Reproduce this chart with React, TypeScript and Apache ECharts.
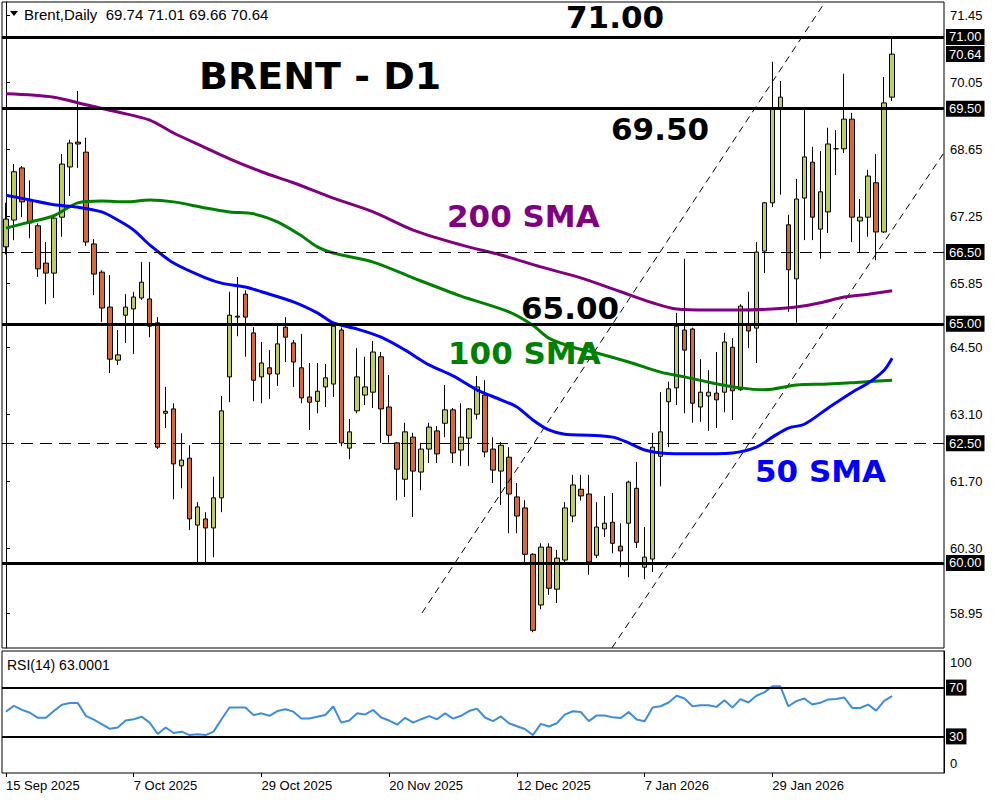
import React, { useEffect, useRef } from "react";
import * as echarts from "echarts";

const dates = [
  "15 Sep 2025","16 Sep 2025","17 Sep 2025","18 Sep 2025","19 Sep 2025",
  "22 Sep 2025","23 Sep 2025","24 Sep 2025","25 Sep 2025","26 Sep 2025",
  "29 Sep 2025","30 Sep 2025","1 Oct 2025","2 Oct 2025","3 Oct 2025",
  "6 Oct 2025","7 Oct 2025","8 Oct 2025","9 Oct 2025","10 Oct 2025",
  "13 Oct 2025","14 Oct 2025","15 Oct 2025","16 Oct 2025","17 Oct 2025",
  "20 Oct 2025","21 Oct 2025","22 Oct 2025","23 Oct 2025","24 Oct 2025",
  "27 Oct 2025","28 Oct 2025","29 Oct 2025","30 Oct 2025","31 Oct 2025",
  "3 Nov 2025","4 Nov 2025","5 Nov 2025","6 Nov 2025","7 Nov 2025",
  "10 Nov 2025","11 Nov 2025","12 Nov 2025","13 Nov 2025","14 Nov 2025",
  "17 Nov 2025","18 Nov 2025","19 Nov 2025","20 Nov 2025","21 Nov 2025",
  "24 Nov 2025","25 Nov 2025","26 Nov 2025","27 Nov 2025","28 Nov 2025",
  "1 Dec 2025","2 Dec 2025","3 Dec 2025","4 Dec 2025","5 Dec 2025",
  "8 Dec 2025","9 Dec 2025","10 Dec 2025","11 Dec 2025","12 Dec 2025",
  "15 Dec 2025","16 Dec 2025","17 Dec 2025","18 Dec 2025","19 Dec 2025",
  "22 Dec 2025","23 Dec 2025","24 Dec 2025","26 Dec 2025",
  "29 Dec 2025","30 Dec 2025","31 Dec 2025","2 Jan 2026",
  "5 Jan 2026","6 Jan 2026","7 Jan 2026","8 Jan 2026","9 Jan 2026",
  "12 Jan 2026","13 Jan 2026","14 Jan 2026","15 Jan 2026","16 Jan 2026",
  "19 Jan 2026","20 Jan 2026","21 Jan 2026","22 Jan 2026","23 Jan 2026",
  "26 Jan 2026","27 Jan 2026","28 Jan 2026","29 Jan 2026","30 Jan 2026",
  "2 Feb 2026","3 Feb 2026","4 Feb 2026","5 Feb 2026","6 Feb 2026",
  "9 Feb 2026","10 Feb 2026","11 Feb 2026","12 Feb 2026","13 Feb 2026",
  "16 Feb 2026","17 Feb 2026","18 Feb 2026","19 Feb 2026",
];
// empty future slots on the right side of the chart
const futureSlots = ["f1", "f2", "f3", "f4", "f5", "f6"];
const tickDates = ["15 Sep 2025", "7 Oct 2025", "29 Oct 2025", "20 Nov 2025", "12 Dec 2025", "7 Jan 2026", "29 Jan 2026"];

const opens = [
  66.61, 67.17, 68.26, 67.59, 67.05, 66.27, 66.06, 67.23, 68.28, 68.8,
  68.59, 66.67, 66.08, 65.35, 64.24, 65.18, 65.31, 65.54, 65.52, 65.02,
  63.13, 63.22, 62.03, 62.19, 60.79, 60.92, 60.73, 61.36, 63.89, 65.14,
  65.62, 64.81, 63.89, 64.08, 63.95, 64.93, 64.6, 64.08, 63.47, 63.38,
  63.68, 63.74, 64.87, 62.4, 63.18, 63.51, 63.57, 64.31, 63.26, 62.51,
  61.75, 62.63, 61.9, 62.38, 62.76, 62.92, 63.2, 62.36, 62.61, 63.11,
  63.51, 62.38, 61.92, 62.21, 61.38, 61.15, 60.18, 59.12, 60.33, 59.45,
  60.06, 60.98, 61.54, 61.44, 60.16, 60.71, 60.85, 60.35, 60.83, 61.56,
  59.91, 60.08, 62.23, 63.37, 63.66, 64.87, 64.89, 63.26, 63.49, 63.55,
  63.57, 64.51, 63.62, 64.97, 64.91, 66.52, 67.53, 69.49, 67.07, 65.94,
  67.63, 68.38, 66.98, 67.34, 68.66, 68.66, 69.28, 67.15, 67.23, 67.95,
  66.92, 69.74,
];
const closes = [
  67.19, 68.18, 67.55, 67.11, 66.15, 66.06, 67.21, 68.34, 68.78, 68.76,
  66.71, 66.04, 65.33, 64.26, 64.35, 65.35, 65.56, 65.87, 64.95, 62.42,
  63.17, 62.07, 62.15, 60.92, 61.17, 60.73, 61.36, 63.18, 65.18, 65.16,
  65.14, 63.82, 64.18, 63.95, 64.58, 64.72, 64.2, 63.45, 63.36, 63.59,
  63.87, 64.95, 62.51, 62.74, 63.89, 63.68, 64.41, 63.22, 62.67, 61.96,
  62.74, 61.92, 62.38, 62.84, 62.28, 63.2, 62.3, 62.63, 63.22, 63.68,
  62.32, 61.94, 62.46, 61.44, 60.98, 60.18, 58.59, 60.33, 59.47, 60.1,
  61.15, 61.63, 61.4, 60.02, 60.75, 60.83, 60.41, 60.25, 61.69, 60.43,
  60.12, 62.42, 62.74, 63.64, 64.95, 64.45, 63.34, 63.57, 63.57, 63.41,
  64.62, 63.6, 65.37, 64.85, 66.5, 67.53, 69.49, 69.74, 66.13, 67.61,
  68.49, 67.23, 67.76, 68.76, 68.66, 69.28, 67.23, 67.23, 68.09, 66.92,
  69.62, 70.64,
];
const lows = [
  66.45, 66.75, 67.23, 66.79, 65.98, 65.41, 65.54, 66.82, 67.67, 68.26,
  66.63, 65.6, 65.04, 63.97, 64.14, 64.6, 64.37, 65.5, 64.72, 62.38,
  62.82, 61.33, 61.56, 60.69, 60.0, 60.0, 60.12, 61.06, 63.36, 64.74,
  64.31, 63.38, 63.34, 63.43, 63.7, 64.2, 63.68, 63.34, 62.78, 63.13,
  63.26, 63.47, 62.44, 62.17, 63.13, 63.3, 63.24, 62.51, 62.51, 61.31,
  61.38, 60.96, 61.52, 62.09, 62.09, 62.63, 62.09, 62.03, 62.03, 63.0,
  62.21, 61.67, 61.21, 60.62, 60.62, 60.0, 58.55, 59.03, 59.33, 59.16,
  60.0, 60.85, 61.3, 59.75, 60.1, 60.54, 60.2, 59.91, 59.7, 60.31,
  59.66, 59.81, 61.6, 62.42, 63.3, 63.13, 62.93, 62.95, 62.76, 62.82,
  63.15, 62.99, 63.6, 64.49, 64.18, 66.06, 67.44, 67.7, 65.25, 65.02,
  66.75, 66.75, 66.36, 66.9, 68.11, 68.57, 66.71, 66.5, 66.82, 66.33,
  66.9, 69.66,
];
const highs = [
  67.53, 68.34, 68.3, 68.0, 67.1, 66.71, 67.25, 68.55, 68.85, 69.87,
  68.89, 66.77, 66.12, 66.02, 64.87, 65.62, 65.67, 66.29, 66.29, 65.14,
  63.68, 63.34, 62.71, 62.46, 61.27, 61.06, 61.8, 63.49, 65.67, 65.98,
  65.7, 64.93, 64.62, 64.45, 64.97, 65.14, 64.66, 64.79, 64.18, 64.18,
  64.16, 65.04, 64.92, 63.01, 64.49, 64.31, 64.64, 64.41, 63.93, 62.53,
  62.93, 62.72, 62.51, 62.93, 62.86, 63.72, 63.24, 63.34, 63.24, 63.91,
  63.82, 62.63, 62.53, 62.42, 61.67, 61.31, 60.2, 60.41, 60.41, 60.27,
  61.27, 61.84, 61.84, 61.84, 61.27, 61.4, 61.46, 60.83, 61.72, 62.11,
  60.75, 62.72, 63.57, 63.79, 65.23, 66.36, 64.92, 64.26, 64.03, 64.41,
  64.81, 64.7, 65.41, 65.67, 66.71, 67.55, 70.48, 70.08, 67.28, 68.03,
  69.47, 68.7, 68.61, 69.1, 69.05, 70.23, 69.41, 67.61, 68.22, 68.55,
  70.16, 71.01,
];

const rsi14 = [
  50.3, 55.1, 51.7, 49.4, 45.2, 45.2, 50.8, 55.9, 57.3, 57.3,
  46.9, 43.8, 40.1, 36.2, 37.3, 43.0, 44.1, 46.1, 41.3, 32.0,
  37.3, 32.8, 33.9, 31.1, 31.7, 31.1, 33.9, 44.1, 53.7, 53.7,
  53.7, 47.5, 48.9, 46.9, 50.8, 52.3, 50.3, 44.6, 44.6, 46.1,
  47.5, 54.5, 41.3, 43.0, 48.9, 48.0, 51.7, 45.5, 43.0, 39.6,
  45.2, 41.3, 44.1, 46.6, 44.1, 48.9, 44.6, 46.9, 50.8, 52.8,
  45.5, 42.5, 46.4, 40.8, 38.3, 36.1, 31.1, 40.3, 38.1, 40.8,
  47.8, 50.6, 50.0, 42.5, 47.2, 47.2, 45.6, 45.0, 50.0, 43.9,
  42.5, 53.6, 54.7, 57.8, 63.3, 61.1, 54.7, 55.6, 55.6, 54.2,
  59.7, 53.6, 60.6, 57.8, 63.3, 66.1, 71.1, 71.1, 54.7, 58.9,
  61.1, 56.1, 57.5, 60.3, 60.6, 61.9, 53.3, 53.3, 56.1, 51.1,
  59.2, 63.0,
];

// moving averages: [bar index, value]
const sma200 = [
  [0, 69.81], [6, 69.74], [10, 69.58], [14, 69.43], [18, 69.26], [21, 68.99], [25, 68.68],
  [28, 68.45], [32, 68.18], [36, 67.95], [41, 67.63], [46, 67.34], [51, 66.96], [57, 66.65],
  [62, 66.44], [67, 66.19], [72, 65.96], [77, 65.67], [81, 65.44], [84, 65.31], [88, 65.29],
  [92, 65.29], [96, 65.31], [99, 65.35], [102, 65.44], [105, 65.56], [108, 65.62], [111, 65.69],
];
const sma100 = [
  [0, 67.0], [3, 67.13], [6, 67.26], [9, 67.53], [12, 67.57], [15, 67.55], [18, 67.59],
  [21, 67.55], [25, 67.42], [28, 67.34], [31, 67.3], [34, 67.13], [37, 66.84], [39, 66.61],
  [41, 66.48], [46, 66.29], [51, 65.96], [57, 65.58], [63, 65.25], [66, 64.97], [68, 64.7],
  [71, 64.51], [74, 64.39], [78, 64.2], [82, 63.99], [85, 63.89], [88, 63.78], [92, 63.66],
  [95, 63.62], [99, 63.72], [103, 63.74], [107, 63.78], [111, 63.82],
];
const sma50 = [
  [0, 67.69], [3, 67.59], [6, 67.49], [9, 67.44], [12, 67.34], [14, 67.17], [16, 66.96],
  [18, 66.65], [21, 66.27], [25, 65.96], [27, 65.85], [30, 65.77], [32, 65.67], [36, 65.46],
  [39, 65.23], [41, 65.02], [44, 64.89], [47, 64.72], [50, 64.45], [53, 64.14], [56, 63.91],
  [59, 63.62], [62, 63.41], [64, 63.26], [66, 62.99], [68, 62.78], [70, 62.69], [73, 62.67],
  [76, 62.63], [78, 62.51], [80, 62.36], [82, 62.3], [86, 62.28], [91, 62.3], [94, 62.42],
  [96, 62.63], [98, 62.82], [100, 62.9], [103, 63.24], [106, 63.57], [108, 63.76], [110, 64.03],
  [111, 64.28],
];

// horizontal levels
const solidLevels = [71.0, 69.5, 65.0, 60.0];
const dashedLevels = [66.5, 62.5];
const lastPrice = 70.64;
const rsiLevels = [70, 30];

// rising channel, endpoints in [bar index, price]
const channelUpper = [[52.1, 58.95], [102.6, 71.73]];
const channelLower = [[75.9, 58.22], [117.5, 68.58]];

const priceTicks = [58.95, 60.3, 61.7, 63.1, 64.5, 65.85, 67.25, 68.65, 70.05, 71.45];

const annotations = [
  { text: "71.00", x: 566, y: 17, size: 31, color: "#000000" },
  { text: "BRENT - D1", x: 199, y: 76, size: 38, color: "#000000" },
  { text: "69.50", x: 611, y: 129, size: 31, color: "#000000" },
  { text: "200 SMA", x: 447, y: 216, size: 31, color: "#800080" },
  { text: "65.00", x: 521, y: 308, size: 31, color: "#000000" },
  { text: "100 SMA", x: 448, y: 353, size: 31, color: "#008000" },
  { text: "50 SMA", x: 755, y: 471, size: 31, color: "#0000FF" },
];

const FONT = "'Liberation Sans', Arial, sans-serif";

export default function App() {
  const ref = useRef<HTMLDivElement>(null);
  useEffect(() => {
    if (!ref.current) return;
    const chart = echarts.init(ref.current, null, { renderer: "svg" });
    const categories = dates.concat(futureSlots);
    const showTick = (_i: number, v: string) => tickDates.includes(v);
    const candles = opens.map((o, i) => [o, closes[i], lows[i], highs[i]]);
    const boxLabel = (txt: string) => ({
      show: true,
      position: "end",
      formatter: txt,
      color: "#fff",
      backgroundColor: "#000",
      padding: [2, 3, 1, 3],
      fontSize: 13,
      fontFamily: FONT,
      distance: 2,
    });

    const option: any = {
      animation: false,
      backgroundColor: "#ffffff",
      grid: [
        { left: 2, top: 2, width: 942, height: 646, show: true, borderColor: "#000", borderWidth: 1, backgroundColor: "#fff" },
        { left: 2, top: 651, width: 942, height: 122, show: true, borderColor: "#000", borderWidth: 1, backgroundColor: "#fff" },
      ],
      xAxis: [
        {
          type: "category", gridIndex: 0, data: categories, boundaryGap: true, position: "bottom",
          axisLine: { show: false }, axisTick: { show: false }, axisLabel: { show: false }, splitLine: { show: false },
        },
        {
          type: "category", gridIndex: 1, data: categories, boundaryGap: true, position: "bottom",
          axisLine: { show: false },
          axisTick: { show: true, alignWithLabel: true, interval: showTick, length: 4, lineStyle: { color: "#000" } },
          axisLabel: { show: true, interval: showTick, align: "left", color: "#000", fontSize: 13, fontFamily: FONT, margin: 6 },
          splitLine: { show: false },
        },
        {
          type: "value", gridIndex: 0, min: -0.5, max: 117.5, show: false, position: "top",
        },
      ],
      yAxis: [
        {
          type: "value", gridIndex: 0, position: "right", min: 58.22, max: 71.73,
          splitLine: { show: false },
          axisLine: { show: true, lineStyle: { color: "#000" } },
          axisTick: { show: true, length: 4, customValues: priceTicks, lineStyle: { color: "#000" } },
          axisLabel: {
            customValues: priceTicks, formatter: (v: number) => v.toFixed(2),
            color: "#000", fontSize: 13, fontFamily: FONT, margin: 6,
          },
        },
        {
          type: "value", gridIndex: 1, position: "right", min: 0, max: 100,
          splitLine: { show: false },
          axisLine: { show: true, lineStyle: { color: "#000" } },
          axisTick: { show: false },
          axisLabel: {
            customValues: [0, 100],
            formatter: (v: number) => (v >= 100 ? "{t|100}" : "{b|0}"),
            margin: 6,
            rich: {
              t: { padding: [22, 0, 0, 0], color: "#000", fontSize: 13, fontFamily: FONT },
              b: { padding: [0, 0, 20, 0], color: "#000", fontSize: 13, fontFamily: FONT },
            },
          },
        },
      ],
      series: [
        {
          type: "candlestick",
          name: "Brent",
          xAxisIndex: 0,
          yAxisIndex: 0,
          data: candles,
          barWidth: 5,
          itemStyle: {
            color: "#BCCF5E",
            color0: "#D5693A",
            borderColor: "#000",
            borderColor0: "#000",
            borderColorDoji: "#000",
            borderWidth: 1,
          },
          markLine: {
            silent: true,
            symbol: ["none", "none"],
            animation: false,
            data: [
              ...solidLevels.map((v) => ({
                yAxis: v,
                lineStyle: { color: "#000", width: 3, type: "solid" },
                label: boxLabel(v.toFixed(2)),
              })),
              ...dashedLevels.map((v) => ({
                yAxis: v,
                lineStyle: { color: "#000", width: 1, type: [12, 7] },
                label: boxLabel(v.toFixed(2)),
              })),
              {
                yAxis: lastPrice,
                lineStyle: { color: "rgba(0,0,0,0)", width: 0 },
                label: boxLabel(lastPrice.toFixed(2)),
              },
            ],
          },
          z: 2,
        },
        {
          type: "line", name: "channel-up", xAxisIndex: 2, yAxisIndex: 0, data: channelUpper,
          symbol: "none", silent: true, lineStyle: { color: "#000", width: 1, type: [7, 5] }, z: 3,
        },
        {
          type: "line", name: "channel-down", xAxisIndex: 2, yAxisIndex: 0, data: channelLower,
          symbol: "none", silent: true, lineStyle: { color: "#000", width: 1, type: [7, 5] }, z: 3,
        },
        {
          type: "line", name: "SMA200", xAxisIndex: 0, yAxisIndex: 0, data: sma200, smooth: 0.3,
          symbol: "none", silent: true, lineStyle: { color: "#800080", width: 3 }, z: 4,
        },
        {
          type: "line", name: "SMA100", xAxisIndex: 0, yAxisIndex: 0, data: sma100, smooth: 0.3,
          symbol: "none", silent: true, lineStyle: { color: "#008000", width: 3 }, z: 4,
        },
        {
          type: "line", name: "SMA50", xAxisIndex: 0, yAxisIndex: 0, data: sma50, smooth: 0.3,
          symbol: "none", silent: true, lineStyle: { color: "#0000FF", width: 3 }, z: 4,
        },
        {
          type: "line", name: "RSI", xAxisIndex: 1, yAxisIndex: 1, data: rsi14,
          symbol: "none", silent: true, lineStyle: { color: "#3C8DDC", width: 2 },
          markLine: {
            silent: true,
            symbol: ["none", "none"],
            animation: false,
            data: rsiLevels.map((v) => ({
              yAxis: v,
              lineStyle: { color: "#000", width: 2, type: "solid" },
              label: boxLabel(String(v)),
            })),
          },
          z: 3,
        },
      ],
      graphic: [
        {
          type: "polygon",
          shape: { points: [[10, 11], [18, 11], [14, 16]] },
          style: { fill: "#000" },
          z: 100,
        },
        {
          type: "text",
          x: 24,
          y: 14,
          style: {
            text: "Brent,Daily\u00a0\u00a069.74 71.01 69.66 70.64",
            font: `15px ${FONT}`,
            fill: "#000",
            textAlign: "left",
            textVerticalAlign: "middle",
          },
          z: 100,
        },
        {
          type: "text",
          x: 7,
          y: 665,
          style: {
            text: "RSI(14) 63.0001",
            font: `14px ${FONT}`,
            fill: "#000",
            textAlign: "left",
            textVerticalAlign: "middle",
          },
          z: 100,
        },
        ...annotations.map((a) => ({
          type: "text",
          x: a.x,
          y: a.y,
          style: {
            text: a.text,
            font: `bold ${a.size}px 'DejaVu Sans', Verdana, sans-serif`,
            fill: a.color,
            textAlign: "left",
            textVerticalAlign: "middle",
          },
          z: 100,
        })),
      ],
    };
    chart.setOption(option);
    return () => chart.dispose();
  }, []);
  return (
    <div
      ref={ref}
      style={{ position: "absolute", left: 0, top: 0, width: 1000, height: 800, background: "#fff" }}
    />
  );
}
